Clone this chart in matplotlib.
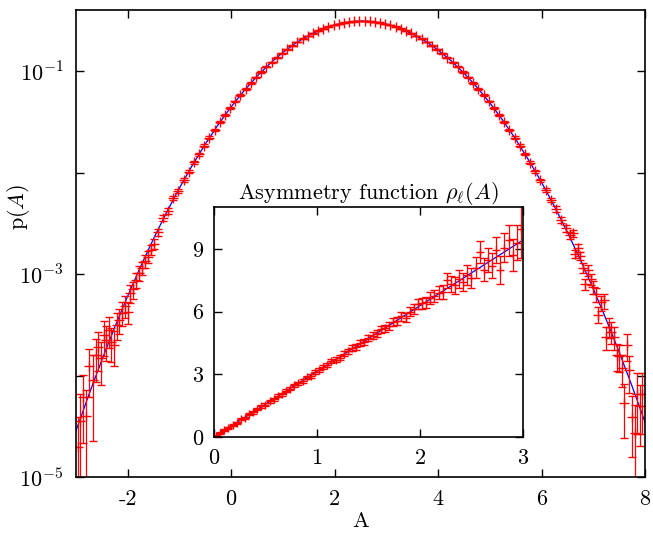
import numpy as np
import matplotlib
matplotlib.use('Agg')
from matplotlib import pyplot as plt
from matplotlib.ticker import NullLocator

plt.rcParams['font.family'] = 'cmr10'
plt.rcParams['mathtext.fontset'] = 'cm'
plt.rcParams['axes.formatter.use_mathtext'] = True

# ---- main distribution p(A), values stored as log10 p ----
A_left = [-2.97, -2.93, -2.87, -2.80, -2.74, -2.67, -2.62, -2.58, -2.51, -2.46,
          -2.42, -2.36, -2.32, -2.26, -2.21, -2.16, -2.11, -2.06, -2.00, -1.95,
          -1.90, -1.84, -1.79, -1.72, -1.67, -1.61, -1.55, -1.50]
logp_left = [-4.70, -4.45, -4.21, -4.40, -3.91, -4.04, -3.80, -3.72, -3.83, -3.60,
             -3.65, -3.55, -3.67, -3.70, -3.50, -3.45, -3.38, -3.31, -3.37, -3.19,
             -3.15, -3.06, -2.99, -2.94, -2.87, -2.83, -2.76, -2.70]
err_left = [0.95, 0.85, 0.65, 0.8, 0.5, 0.75, 0.45, 0.42, 0.45, 0.38,
            0.38, 0.33, 0.36, 0.38, 0.3, 0.28, 0.26, 0.24, 0.25, 0.2,
            0.19, 0.17, 0.16, 0.15, 0.14, 0.13, 0.12, 0.11]

A_mid = [-1.42, -1.32, -1.22, -1.12, -1.02, -0.92, -0.82, -0.72, -0.62, -0.52,
         -0.42, -0.32, -0.22, -0.12, -0.02, 0.08, 0.18, 0.28, 0.38, 0.48,
         0.58, 0.68, 0.78, 0.88, 0.98, 1.08, 1.18, 1.28, 1.38, 1.48,
         1.58, 1.68, 1.78, 1.88, 1.98, 2.08, 2.18, 2.28, 2.38, 2.48,
         2.58, 2.68, 2.78, 2.88, 2.98, 3.08, 3.18, 3.28, 3.38, 3.48,
         3.58, 3.68, 3.78, 3.88, 3.98, 4.08, 4.18, 4.28, 4.38, 4.48,
         4.58, 4.68, 4.78, 4.88, 4.98, 5.08, 5.18, 5.28, 5.38, 5.48,
         5.58, 5.68, 5.78, 5.88, 5.98, 6.08, 6.18, 6.28, 6.38, 6.48]
logp_mid = [-2.59, -2.45, -2.38, -2.25, -2.18, -2.07, -1.99, -1.90, -1.82, -1.735,
            -1.656, -1.579, -1.505, -1.434, -1.365, -1.299, -1.236, -1.175, -1.117, -1.062,
            -1.009, -0.959, -0.911, -0.866, -0.824, -0.785, -0.748, -0.713, -0.682, -0.653,
            -0.626, -0.602, -0.581, -0.563, -0.547, -0.534, -0.523, -0.515, -0.510, -0.507,
            -0.507, -0.510, -0.515, -0.523, -0.534, -0.547, -0.563, -0.581, -0.602, -0.626,
            -0.653, -0.682, -0.713, -0.748, -0.785, -0.824, -0.866, -0.911, -0.959, -1.009,
            -1.062, -1.117, -1.175, -1.236, -1.299, -1.365, -1.434, -1.505, -1.579, -1.656,
            -1.735, -1.817, -1.901, -1.988, -2.078, -2.17, -2.27, -2.36, -2.47, -2.55]
err_mid = [0.08, 0.068, 0.062, 0.054, 0.049, 0.044, 0.04, 0.036, 0.033, 0.029,
           0.027, 0.025, 0.023, 0.021, 0.019, 0.018, 0.017, 0.016, 0.015, 0.014,
           0.013, 0.012, 0.011, 0.011, 0.010, 0.010, 0.009, 0.009, 0.009, 0.009,
           0.008, 0.008, 0.008, 0.008, 0.008, 0.007, 0.007, 0.007, 0.007, 0.007,
           0.007, 0.007, 0.007, 0.007, 0.007, 0.008, 0.008, 0.008, 0.008, 0.008,
           0.009, 0.009, 0.009, 0.009, 0.010, 0.010, 0.011, 0.011, 0.012, 0.013,
           0.014, 0.015, 0.016, 0.017, 0.018, 0.019, 0.021, 0.023, 0.025, 0.027,
           0.029, 0.033, 0.036, 0.04, 0.044, 0.049, 0.054, 0.062, 0.068, 0.075]

A_right = [6.55, 6.60, 6.65, 6.70, 6.75, 6.80, 6.85, 6.90, 6.95, 7.00,
           7.05, 7.10, 7.15, 7.20, 7.25, 7.30, 7.35, 7.40, 7.45, 7.50,
           7.55, 7.60, 7.65, 7.70, 7.75, 7.80, 7.85, 7.90, 7.95]
logp_right = [-2.62, -2.60, -2.80, -2.74, -2.82, -2.94, -3.10, -2.96, -3.05, -3.13,
              -3.20, -3.40, -3.28, -3.26, -3.62, -3.52, -3.57, -3.62, -3.80, -3.81,
              -3.93, -4.27, -3.70, -3.95, -4.41, -4.57, -4.18, -4.30, -4.18]
err_right = [0.08, 0.08, 0.09, 0.09, 0.1, 0.11, 0.12, 0.12, 0.13, 0.14,
             0.15, 0.18, 0.17, 0.17, 0.25, 0.22, 0.24, 0.25, 0.3, 0.3,
             0.35, 0.55, 0.3, 0.4, 0.6, 0.9, 0.6, 0.6, 0.6]

# gaussian fit curve (log10 p)
A_fit = [-3.0, -2.75, -2.5, -2.25, -2.0, -1.75, -1.5, -1.25, -1.0, -0.75,
         -0.5, -0.25, 0.0, 0.25, 0.5, 0.75, 1.0, 1.25, 1.5, 1.75,
         2.0, 2.25, 2.5, 2.75, 3.0, 3.25, 3.5, 3.75, 4.0, 4.25,
         4.5, 4.75, 5.0, 5.25, 5.5, 5.75, 6.0, 6.25, 6.5, 6.75,
         7.0, 7.25, 7.5, 7.75, 8.0]
logp_fit = [-4.544, -4.187, -3.847, -3.523, -3.216, -2.925, -2.651, -2.393, -2.152, -1.927,
            -1.719, -1.527, -1.352, -1.193, -1.051, -0.925, -0.816, -0.723, -0.647, -0.587,
            -0.544, -0.517, -0.507, -0.513, -0.536, -0.575, -0.631, -0.703, -0.792, -0.897,
            -1.019, -1.158, -1.312, -1.484, -1.671, -1.876, -2.096, -2.334, -2.587, -2.858,
            -3.144, -3.448, -3.767, -4.104, -4.457]

# ---- inset: asymmetry function ----
A_in = [0.02, 0.06, 0.10, 0.14, 0.18, 0.22, 0.26, 0.30, 0.34, 0.38,
        0.42, 0.46, 0.50, 0.54, 0.58, 0.62, 0.66, 0.70, 0.74, 0.78,
        0.82, 0.86, 0.90, 0.94, 0.98, 1.02, 1.06, 1.10, 1.14, 1.18,
        1.22, 1.26, 1.30, 1.34, 1.38, 1.42, 1.46, 1.50, 1.54, 1.58,
        1.62, 1.66, 1.70, 1.74, 1.78, 1.82, 1.86, 1.90, 1.94, 1.98,
        2.02, 2.06, 2.10, 2.14, 2.18, 2.22, 2.26, 2.30, 2.34, 2.38,
        2.42, 2.46, 2.50, 2.54, 2.58, 2.62, 2.66, 2.70, 2.74, 2.78,
        2.82, 2.86, 2.90, 2.94, 2.98]
rho_in = [0.06, 0.20, 0.33, 0.42, 0.58, 0.68, 0.84, 0.93, 1.09, 1.18,
          1.34, 1.47, 1.55, 1.71, 1.80, 1.97, 2.05, 2.22, 2.30, 2.47,
          2.57, 2.68, 2.86, 2.93, 3.10, 3.20, 3.34, 3.44, 3.62, 3.70,
          3.80, 3.99, 4.10, 4.25, 4.31, 4.50, 4.56, 4.75, 4.85, 4.95,
          5.15, 5.20, 5.30, 5.50, 5.55, 5.78, 5.70, 6.00, 6.10, 6.35,
          6.40, 6.45, 6.65, 6.75, 6.90, 6.95, 7.50, 7.30, 7.25, 7.55,
          7.40, 7.75, 7.60, 8.10, 8.85, 8.00, 8.45, 8.20, 8.95, 8.00,
          9.05, 9.40, 8.70, 9.30, 9.95]
rho_err = [0.05, 0.05, 0.05, 0.05, 0.05, 0.05, 0.05, 0.05, 0.06, 0.06,
           0.06, 0.06, 0.06, 0.06, 0.07, 0.07, 0.07, 0.07, 0.07, 0.08,
           0.08, 0.08, 0.08, 0.09, 0.09, 0.09, 0.10, 0.10, 0.10, 0.11,
           0.11, 0.12, 0.12, 0.13, 0.13, 0.14, 0.14, 0.15, 0.15, 0.16,
           0.17, 0.17, 0.18, 0.19, 0.20, 0.21, 0.22, 0.23, 0.24, 0.25,
           0.26, 0.27, 0.29, 0.30, 0.32, 0.34, 0.36, 0.38, 0.40, 0.42,
           0.44, 0.46, 0.48, 0.50, 0.52, 0.55, 0.58, 0.60, 0.63, 0.66,
           0.70, 0.74, 0.78, 0.85, 1.40]
A_in_fit = [0.0, 3.0]
rho_in_fit = [0.0, 9.42]

A_main = np.array(A_left + A_mid + A_right)
p_main = 10 ** np.array(logp_left + logp_mid + logp_right)
perr = p_main * np.array(err_left + err_mid + err_right)

FS = 16

fig = plt.figure(figsize=(6.53, 5.33), dpi=100)
ax = fig.add_axes([0.1164, 0.1051, 0.8713, 0.8761])

ax.plot(A_fit, 10 ** np.array(logp_fit), color='blue', lw=0.9, zorder=1)
ax.errorbar(A_main, p_main, yerr=perr, fmt='+', color='red', ms=7, mew=1.0,
            elinewidth=0.9, capsize=3, capthick=1.0, zorder=2)

ax.set_yscale('log')
ax.set_xlim(-3, 8)
ax.set_ylim(1e-5, 0.4)
ax.set_xticks([-2, 0, 2, 4, 6, 8])
ax.set_xticklabels(['-2', '0', '2', '4', '6', '8'])
ax.set_yticks([1e-5, 1e-4, 1e-3, 1e-2, 1e-1])
ax.set_yticklabels([r'$10^{-5}$', '', r'$10^{-3}$', '', r'$10^{-1}$'])
ax.yaxis.set_minor_locator(NullLocator())
ax.tick_params(direction='in', length=6, width=1, top=True, right=True,
               labelsize=FS)
ax.tick_params(axis='x', pad=9)
ax.tick_params(axis='y', pad=9)
for s in ax.spines.values():
    s.set_linewidth(1.2)
ax.set_xlabel('A', fontsize=FS, labelpad=2)
ax.set_ylabel(r'p$(A)$', fontsize=FS)
ax.yaxis.set_label_coords(-0.077, 0.578)

# inset
ins = fig.add_axes([0.3277, 0.1801, 0.4732, 0.4315])
ins.plot(A_in_fit, rho_in_fit, color='blue', lw=0.9, zorder=1)
ins.errorbar(A_in, rho_in, yerr=rho_err, fmt='+', color='red', ms=6, mew=1.0,
             elinewidth=0.9, capsize=2.6, capthick=1.0, zorder=2)
ins.set_xlim(0, 3)
ins.set_ylim(0, 11)
ins.set_xticks([0, 1, 2, 3])
ins.set_yticks([0, 3, 6, 9])
ins.set_xticklabels(['0', '1', '2', '3'])
ins.set_yticklabels(['0', '3', '6', '9'])
ins.tick_params(direction='in', length=6, width=1, top=True, right=True,
                labelsize=FS)
ins.tick_params(axis='x', pad=8)
ins.tick_params(axis='y', pad=8)
for s in ins.spines.values():
    s.set_linewidth(1.2)
ins.set_title(r'Asymmetry function $\rho_\ell(A)$', fontsize=FS, pad=6)

fig.savefig('out.png', dpi=100)
